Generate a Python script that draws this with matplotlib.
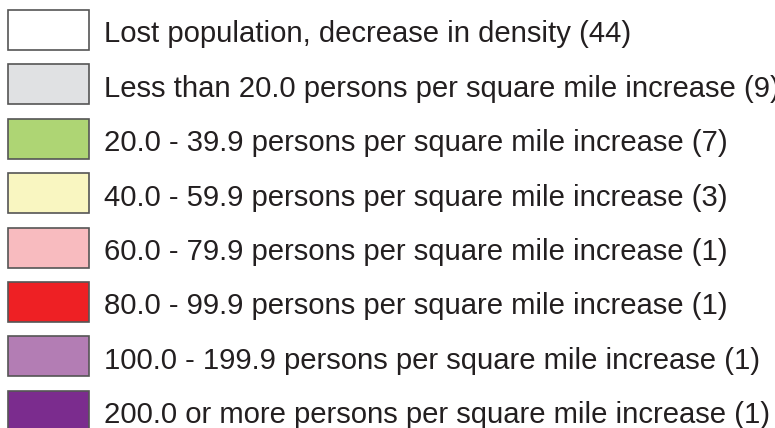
import matplotlib
matplotlib.use("Agg")
import matplotlib.pyplot as plt

categories = [
    "Lost population, decrease in density",
    "Less than 20.0 persons per square mile increase",
    "20.0 - 39.9 persons per square mile increase",
    "40.0 - 59.9 persons per square mile increase",
    "60.0 - 79.9 persons per square mile increase",
    "80.0 - 99.9 persons per square mile increase",
    "100.0 - 199.9 persons per square mile increase",
    "200.0 or more persons per square mile increase",
]
counts = [44, 9, 7, 3, 1, 1, 1, 1]
colors = ["#ffffff", "#e0e1e3", "#aed574", "#f9f6c1", "#f8bbbf", "#ee2024", "#b37db4", "#7b2c8e"]

W, H = 775, 428
fig = plt.figure(figsize=(W / 100, H / 100), dpi=100)
ax = fig.add_axes([0, 0, 1, 1])
ax.set_xlim(0, W)
step = 54.4
top = 30
ax.set_ylim((H - top) / step, -top / step)
ax.axis("off")

ys = list(range(len(categories)))
ax.barh(ys, [81] * len(ys), left=8, height=40 / step, color=colors,
        edgecolor="#555555", linewidth=1.2)
for y, c, n in zip(ys, categories, counts):
    ax.text(104, y + 12.5 / step, f"{c} ({n})", fontsize=21.1, family="Liberation Sans",
            color="#231f20", va="baseline", ha="left")

fig.savefig("out.png", dpi=100)
